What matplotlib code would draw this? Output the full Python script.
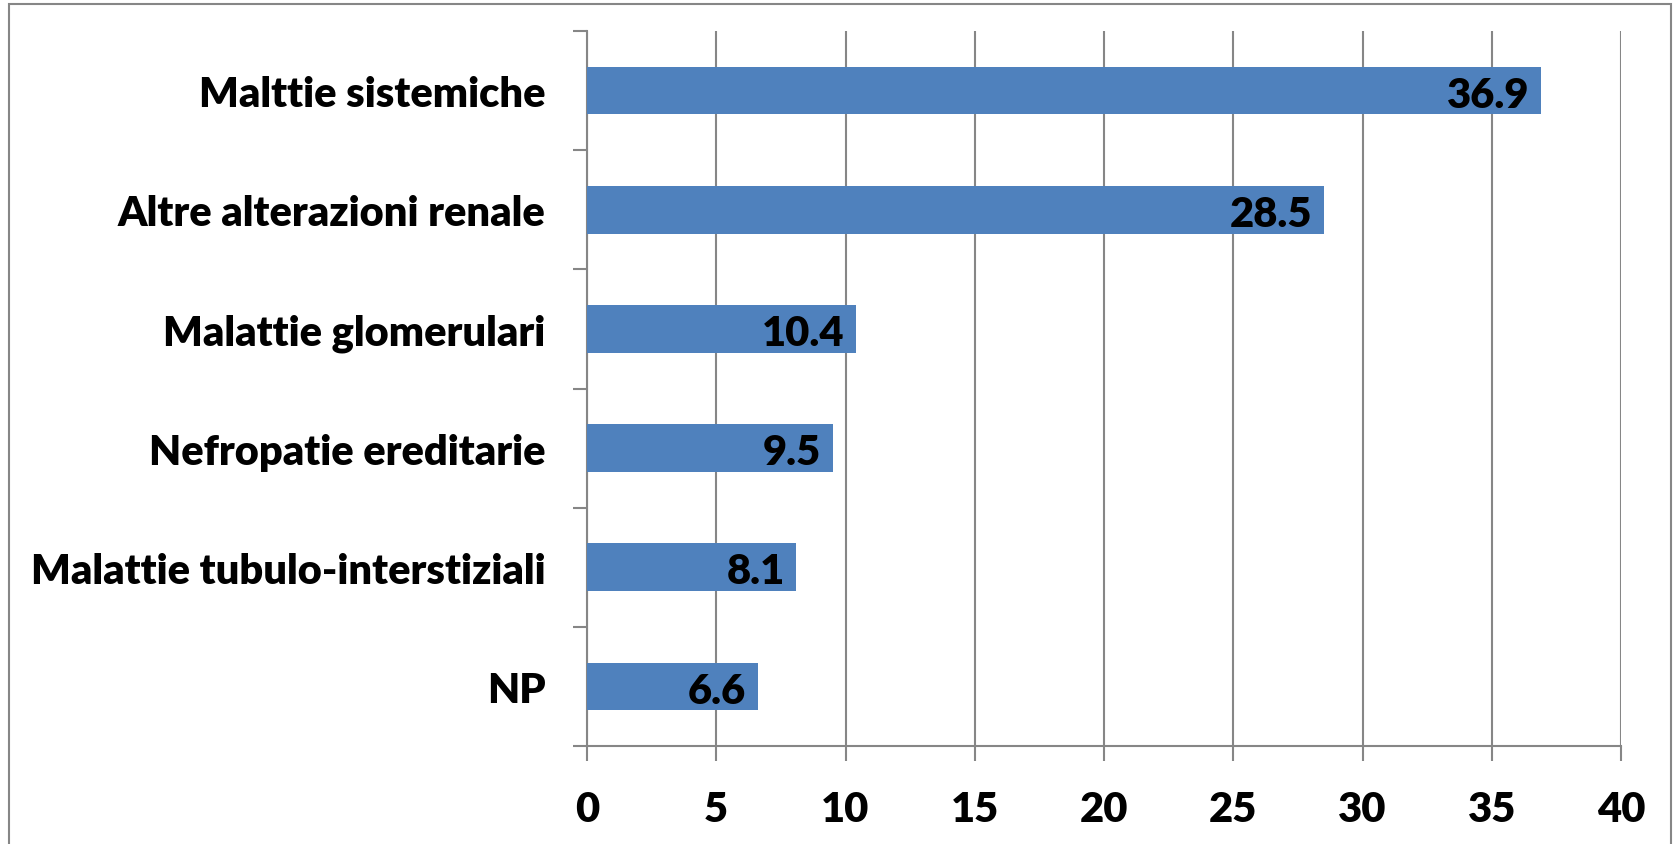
import numpy as np
import matplotlib.pyplot as plt
from matplotlib.patches import Rectangle

# Data
categories = ["Malttie sistemiche", "Altre alterazioni renale", "Malattie glomerulari",
              "Nefropatie ereditarie", "Malattie tubulo-interstiziali", "NP"]
values = [36.9, 28.5, 10.4, 9.5, 8.1, 6.6]
x_ticks = [0, 5, 10, 15, 20, 25, 30, 35, 40]

bar_color = "#4F81BD"
line_color = "#868686"
font = ["Lato", "DejaVu Sans"]
size = 30
weight = "heavy"

plt.rcParams['font.family'] = font

fig = plt.figure(figsize=(16.77, 8.45), dpi=100)
ax = fig.add_axes([587 / 1677, 98 / 845, (1621 - 587) / 1677, (747 - 32) / 845])

# outer chart border
fig.patches.append(Rectangle((9 / 1677, -0.05), (1671 - 9) / 1677, 1.05 - 5 / 845,
                             transform=fig.transFigure, fill=False,
                             edgecolor=line_color, linewidth=1.5))

y = np.arange(len(categories))
ax.barh(y, values, height=0.4, color=bar_color, zorder=3)

for yi, v in zip(y, values):
    ax.annotate(f"{v}", xy=(v, yi), xytext=(-8, -3), textcoords="offset points",
                ha="right", va="center", fontsize=size, fontweight=weight, zorder=4)

ax.set_xlim(0, 40)
ax.set_ylim(len(categories) - 0.5, -0.5)
ax.set_xticks(x_ticks)
ax.set_xticklabels([str(t) for t in x_ticks], fontsize=size, fontweight=weight)
ax.set_yticks(y)
ax.set_yticklabels(categories, fontsize=size, fontweight=weight)
ax.set_yticks(np.arange(len(categories) + 1) - 0.5, minor=True)

ax.tick_params(axis="y", which="major", length=0, pad=30)
ax.tick_params(axis="y", which="minor", length=10, width=1.5, color=line_color)
ax.tick_params(axis="x", length=11, width=1.5, color=line_color, pad=21)

ax.grid(axis="x", color=line_color, linewidth=1.5, zorder=0)
ax.set_axisbelow(True)
for side in ["top", "right"]:
    ax.spines[side].set_visible(False)
for side in ["left", "bottom"]:
    ax.spines[side].set_color(line_color)
    ax.spines[side].set_linewidth(1.5)

fig.savefig("out.png", dpi=100)
